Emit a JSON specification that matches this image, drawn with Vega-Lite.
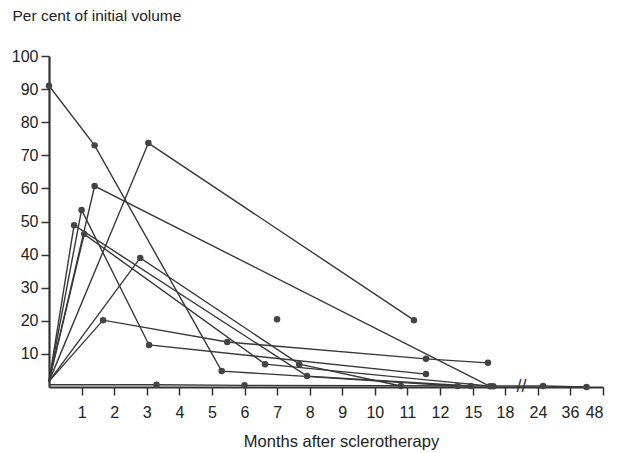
{
  "$schema": "https://vega.github.io/schema/vega-lite/v6.json",
  "width": 554,
  "height": 331,
  "autosize": "none",
  "padding": {"left": 49, "top": 56, "right": 18, "bottom": 66},
  "background": "white",
  "config": {
    "view": {"stroke": null},
    "font": "Liberation Sans",
    "axis": {"grid": false, "domainColor": "#333", "domainWidth": 2.2, "tickColor": "#333", "tickWidth": 1.5, "tickSize": 8, "labelColor": "#222", "titleColor": "#222", "labelFont": "Liberation Sans", "titleFont": "Liberation Sans", "titleFontWeight": "normal"}
  },
  "data": {
    "values": [
      {"series": "S1", "month": 0, "pct": 91},
      {"series": "S1", "month": 1.4, "pct": 73},
      {"series": "S1", "month": 5.3, "pct": 4.8},
      {"series": "S1", "month": 13.6, "pct": 0.3},
      {"series": "S2", "month": 0, "pct": 1.7},
      {"series": "S2", "month": 3.05, "pct": 73.7},
      {"series": "S2", "month": 11.2, "pct": 20.2},
      {"series": "S3", "month": 0, "pct": 1.7},
      {"series": "S3", "month": 1.4, "pct": 60.7},
      {"series": "S3", "month": 16.6, "pct": 0.2},
      {"series": "S4", "month": 0, "pct": 1.7},
      {"series": "S4", "month": 1.0, "pct": 53.5},
      {"series": "S4", "month": 3.07, "pct": 12.7},
      {"series": "S4", "month": 11.57, "pct": 3.9},
      {"series": "S5", "month": 0, "pct": 1.7},
      {"series": "S5", "month": 0.77, "pct": 48.9},
      {"series": "S5", "month": 7.92, "pct": 3.3},
      {"series": "S5", "month": 14.8, "pct": 0.3},
      {"series": "S6", "month": 0, "pct": 1.7},
      {"series": "S6", "month": 1.08, "pct": 46.2},
      {"series": "S6", "month": 6.63, "pct": 6.9},
      {"series": "S6", "month": 16.9, "pct": 0.2},
      {"series": "S7", "month": 0, "pct": 1.7},
      {"series": "S7", "month": 2.8, "pct": 39},
      {"series": "S7", "month": 7.68, "pct": 6.9},
      {"series": "S7", "month": 10.8, "pct": 0.3},
      {"series": "S8", "month": 0, "pct": 1.7},
      {"series": "S8", "month": 1.66, "pct": 20.2},
      {"series": "S8", "month": 5.47, "pct": 13.6},
      {"series": "S8", "month": 11.57, "pct": 8.5},
      {"series": "S8", "month": 16.4, "pct": 7.3},
      {"series": "S9", "month": 0, "pct": 0.7},
      {"series": "S9", "month": 3.3, "pct": 0.7},
      {"series": "S9", "month": 6, "pct": 0.5},
      {"series": "S9", "month": 25.9, "pct": 0.3},
      {"series": "S9", "month": 42, "pct": 0},
      {"series": "S10", "month": 7.0, "pct": 20.5}
    ]
  },
  "encoding": {
    "x": {
      "field": "month", "type": "quantitative",
      "scale": {"domain": [0, 12, 15, 18, 24, 36, 48], "range": [0, 391, 424, 456, 489, 521, 554], "nice": false, "zero": false},
      "axis": {
        "values": [1, 2, 3, 4, 5, 6, 7, 8, 9, 10, 11, 12, 15, 18, 24, 36, 48],
        "labelFontSize": 16, "labelPadding": 9,
        "title": "Months after sclerotherapy", "titleFontSize": 16.5,
        "titleX": 292, "titleY": 54, "titleAlign": "center", "titleBaseline": "middle"
      }
    },
    "y": {
      "field": "pct", "type": "quantitative",
      "scale": {"domain": [0, 100], "nice": false},
      "axis": {
        "values": [10, 20, 30, 40, 50, 60, 70, 80, 90, 100],
        "labelFontSize": 16, "labelPadding": 3,
        "title": "Per cent of initial volume", "titleFontSize": 15.5, "titleAngle": 0,
        "titleX": -37, "titleY": -41, "titleAlign": "left", "titleBaseline": "middle"
      }
    }
  },
  "layer": [
    {
      "mark": {"type": "line", "color": "#383838", "strokeWidth": 1.4},
      "encoding": {"detail": {"field": "series"}, "order": {"field": "month", "type": "quantitative"}}
    },
    {
      "transform": [{"filter": "datum.month > 0 || datum.pct > 10"}],
      "mark": {"type": "point", "filled": true, "color": "#444", "opacity": 1, "size": 42}
    },
    {
      "data": {"values": [{"month": 21, "pct": 0, "label": "//"}]},
      "mark": {"type": "text", "fontSize": 18, "color": "#333", "baseline": "middle", "align": "center", "fontWeight": "normal"},
      "encoding": {"text": {"field": "label"}}
    }
  ]
}
